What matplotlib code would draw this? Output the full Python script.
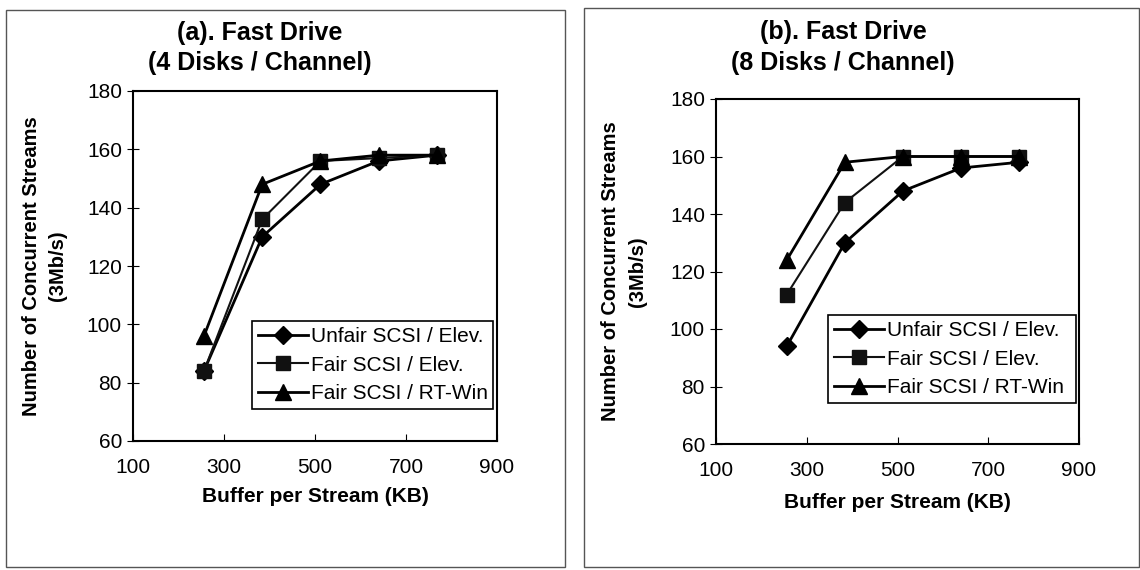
import matplotlib
matplotlib.use("Agg")
import matplotlib.pyplot as plt
from matplotlib.patches import Rectangle

plt.rcParams['font.family'] = ['Liberation Sans', 'DejaVu Sans']

buffer_kb = [256, 384, 512, 640, 768]
series_names = ["Unfair SCSI / Elev.", "Fair SCSI / Elev.", "Fair SCSI / RT-Win"]

a_unfair = [84, 130, 148, 156, 158]
a_fair_elev = [84, 136, 156, 157, 158]
a_fair_rtwin = [96, 148, 156, 158, 158]

b_unfair = [94, 130, 148, 156, 158]
b_fair_elev = [112, 144, 160, 160, 160]
b_fair_rtwin = [124, 158, 160, 160, 160]

title_line1 = ["(a). Fast Drive", "(b). Fast Drive"]
title_line2 = ["(4 Disks / Channel)", "(8 Disks / Channel)"]
xticks = [100, 300, 500, 700, 900]
yticks = [60, 80, 100, 120, 140, 160, 180]

W, H = 1140, 570
fig = plt.figure(figsize=(11.4, 5.7), dpi=100)

def fx(px):
    return px / W

def fy(py):
    return 1 - py / H

# panel frames
fig.patches.append(Rectangle((fx(6), fy(567)), 559/W, 557/H, transform=fig.transFigure,
                             fill=False, edgecolor='#555555', linewidth=1.0))
fig.patches.append(Rectangle((fx(584), fy(567)), 555/W, 559/H, transform=fig.transFigure,
                             fill=False, edgecolor='#555555', linewidth=1.0))

axes_px = [(133, 91, 497, 441), (716, 99, 1079, 444)]
data = [
    (a_unfair, a_fair_elev, a_fair_rtwin),
    (b_unfair, b_fair_elev, b_fair_rtwin),
]
legend_boxes = [(252, 321, 493, 409), (828, 315, 1076, 403)]
title_x = [260, 843]
title_y = [(33, 63), (32, 63)]
ylabel_x = [(32, 58), (610, 637)]
xlabel_y = [497, 502]

for i in range(2):
    x0, y0, x1, y1 = axes_px[i]
    ax = fig.add_axes([fx(x0), fy(y1), (x1-x0)/W, (y1-y0)/H])
    unf, fe, rt = data[i]
    ax.plot(buffer_kb, unf, color='black', linewidth=2.0, marker='D', markersize=9,
            label=series_names[0])
    ax.plot(buffer_kb, fe, color='#111111', linewidth=1.5, marker='s', markersize=10.5,
            label=series_names[1])
    ax.plot(buffer_kb, rt, color='black', linewidth=2.0, marker='^', markersize=11,
            label=series_names[2])
    ax.set_xlim(100, 900)
    ax.set_ylim(60, 180)
    ax.set_xticks(xticks)
    ax.set_yticks(yticks)
    ax.tick_params(axis='x', direction='in', length=5, labelsize=15, pad=12)
    ax.tick_params(axis='y', direction='inout', length=8, labelsize=15, pad=4)
    for s in ax.spines.values():
        s.set_linewidth(1.5)
    cx = (x0 + x1) / 2
    fig.text(fx(cx), fy(xlabel_y[i]), "Buffer per Stream (KB)", fontsize=15,
             fontweight='bold', ha='center', va='center')
    fig.text(fx(ylabel_x[i][0]), fy((y0 + y1) / 2), "Number of Concurrent Streams",
             fontsize=14.5, fontweight='bold', rotation=90, ha='center', va='center')
    fig.text(fx(ylabel_x[i][1]), fy((y0 + y1) / 2), "(3Mb/s)",
             fontsize=14.5, fontweight='bold', rotation=90, ha='center', va='center')
    fig.text(fx(title_x[i]), fy(title_y[i][0]), title_line1[i], fontsize=18,
             fontweight='bold', ha='center', va='center')
    fig.text(fx(title_x[i]), fy(title_y[i][1]), title_line2[i], fontsize=18,
             fontweight='bold', ha='center', va='center')
    lx0, ly0, lx1, ly1 = legend_boxes[i]
    leg = ax.legend(loc='upper left',
                    bbox_to_anchor=(fx(lx0), fy(ly1), (lx1-lx0)/W, (ly1-ly0)/H),
                    bbox_transform=fig.transFigure, mode='expand',
                    fontsize=15, frameon=True, fancybox=False, borderpad=0.3,
                    handlelength=2.4, handletextpad=0.15, labelspacing=0.45,
                    borderaxespad=0.0)
    leg.get_frame().set_edgecolor('black')
    leg.get_frame().set_linewidth(1.2)
    leg.get_frame().set_alpha(1.0)

fig.savefig("out.png", dpi=100)
